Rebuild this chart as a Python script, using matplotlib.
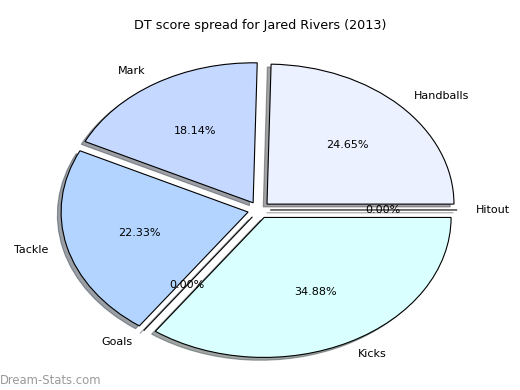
import matplotlib
matplotlib.use("Agg")
from matplotlib import pyplot as plt

labels = ["Handballs", "Mark", "Tackle", "Goals", "Kicks", "Hitout"]
shares = [24.65, 18.14, 22.33, 0.0, 34.88, 0.0]
colors = ["#ebf1ff", "#c5d8ff", "#b3d4ff", "#a6cfff", "#d9ffff", "#e6f0ff"]
explode = [0.06] * len(labels)

fig = plt.figure(figsize=(5.2, 3.9), dpi=100)
ax = fig.add_axes([0, 0, 1, 1])

wedges, texts, autotexts = ax.pie(
    shares, labels=labels, colors=colors, explode=explode,
    autopct="%1.2f%%", shadow=dict(ox=-0.0144, oy=-0.0144), startangle=0,
    labeldistance=1.1, pctdistance=0.6,
    wedgeprops=dict(edgecolor="black", linewidth=0.8),
    textprops=dict(fontsize=8),
)
ax.set_aspect("auto")
ax.set_xlim(-1.385, 1.396)
ax.set_ylim(-1.286, 1.5)
ax.axis("off")

fig.text(0.5, 1 - 25 / 390, "DT score spread for Jared Rivers (2013)",
         ha="center", va="center", fontsize=9.2)
# watermark
fig.text(0.0, 1 - 380 / 390, "Dream-Stats.com", ha="left", va="center",
         fontsize=8.4, color="#9a9a9a")

fig.savefig("out.png", dpi=100)
